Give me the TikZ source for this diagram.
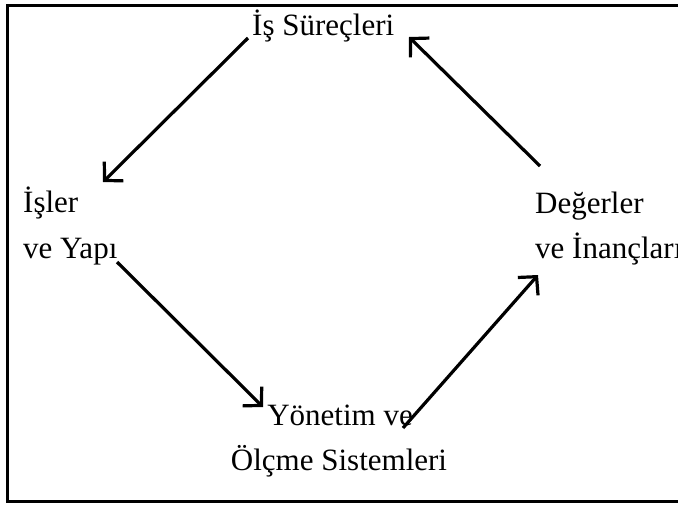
\documentclass[tikz,border=0pt]{standalone}
\usepackage{fontspec}
\setmainfont{Liberation Serif}
\usetikzlibrary{arrows.meta}

\begin{document}
\begin{tikzpicture}[x=1pt, y=-1pt,
    lbl/.style={inner sep=0pt, font=\fontsize{31}{37}\selectfont},
    link/.style={line width=3.2pt, -{Straight Barb[length=13pt, width=27pt]}}]
    % Page area
    \useasboundingbox (0,0) rectangle (678,504);
    \clip (0,0) rectangle (678,504);

    % Frame (right side runs off the page)
    \draw[line width=3pt] (700,5) -- (7,5) -- (7,501) -- (700,501);

    % Labels
    \node[lbl, anchor=base west] (surec) at (252,35) {İş Süreçleri};
    \node[lbl, anchor=base west] (isler) at (23,212) {İşler};
    \node[lbl, anchor=base west] (yapi) at (23,258) {ve Yapı};
    \node[lbl, anchor=base west] (deger) at (535,213) {Değerler};
    \node[lbl, anchor=base west] (inanc) at (535,258) {ve İnançları};
    \node[lbl, anchor=base] (yonetim) at (340,425) {Yönetim ve};
    \node[lbl, anchor=base] (olcme) at (339,470) {Ölçme Sistemleri};

    % Arrow ends
    \coordinate (s1) at (248,38);  \coordinate (e1) at (103,182);
    \coordinate (s2) at (117,262); \coordinate (e2) at (263,407);
    \coordinate (s3) at (403,428); \coordinate (e3) at (538,275);
    \coordinate (s4) at (540,166); \coordinate (e4) at (409,37);

    % Arrows
    \draw[link] (s1) -- (e1);
    \draw[link] (s2) -- (e2);
    \draw[link] (s3) -- (e3);
    \draw[link] (s4) -- (e4);
\end{tikzpicture}
\end{document}
